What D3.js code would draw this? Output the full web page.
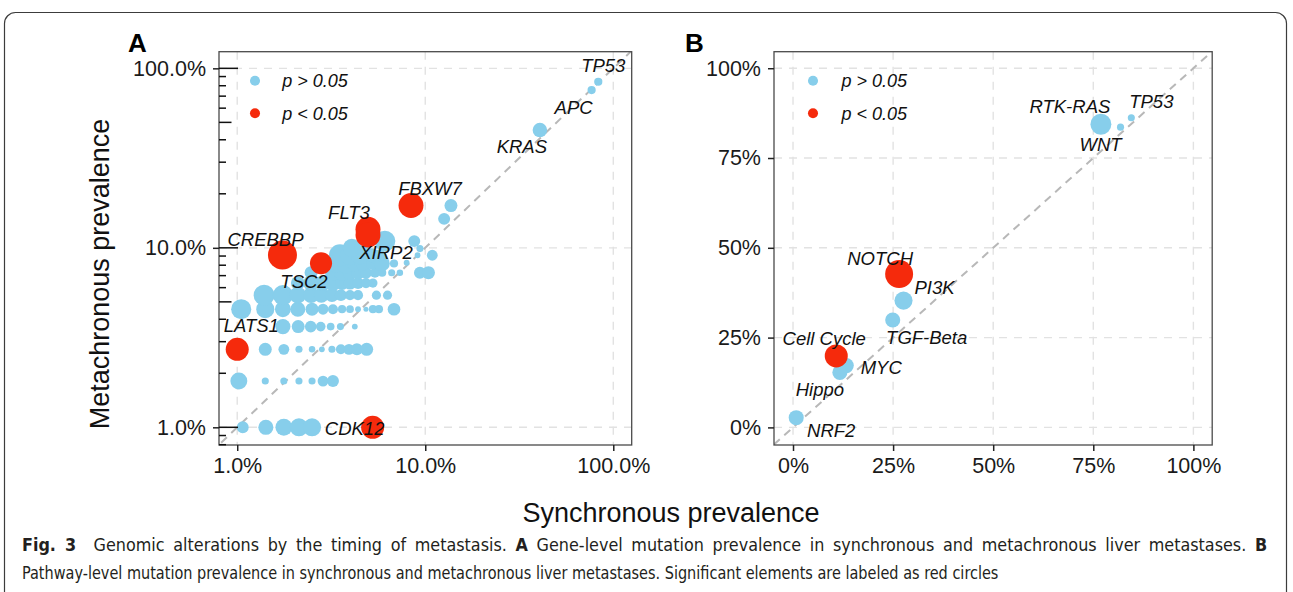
<!DOCTYPE html>
<html><head><meta charset="utf-8">
<script src="https://cdn.jsdelivr.net/npm/d3@7"></script>
<style>
body{margin:0;background:#fff}
svg{display:block}
text{font-family:"Liberation Sans",Arial,Helvetica,sans-serif}
</style>
</head><body>
<svg id="c" width="1293" height="592"></svg>
<script>
// ---------- DATA: Panel A (gene level, log scale, percent) ----------
// unlabeled genes (p > 0.05)
const aSync = [1.07,1.42,1.77,2.13,2.50, 1.02,1.41,1.77,2.13,2.50,2.86,3.23,
  1.41,1.77,2.13,2.50,2.82,3.19,3.56,3.93,4.33,4.88,
  1.75,2.11,2.46,2.78,3.14,3.54,4.22,
  1.05,1.41,1.75,2.10,2.50,2.86,3.23,3.61,3.98,4.39,4.84,5.27,5.67,6.82,
  1.39,1.75,2.10,2.47,2.80,3.19,3.56,3.98,4.39,5.5,6.3,
  2.10,2.47,2.86,3.23,3.61,3.98,4.39,4.84,5.27,
  2.47,3.23,3.61,3.98,4.39,4.84,5.40,5.9,6.63,7.33,9.37,10.4,
  3.35,3.78,4.23,4.66,5.21,5.88,6.82,7.96,
  3.52,3.98,4.49,5.21,5.73,9.1,10.9,
  4.07,4.61,9.37, 6.1,8.74, 12.6,13.7];
const aMeta = [1.0,1.0,1.0,1.0,1.0, 1.81,1.81,1.81,1.81,1.81,1.81,1.81,
  2.72,2.72,2.72,2.72,2.72,2.72,2.72,2.72,2.72,2.72,
  3.64,3.64,3.64,3.64,3.64,3.64,3.64,
  4.55,4.55,4.55,4.55,4.55,4.55,4.55,4.55,4.55,4.55,4.55,4.55,4.55,4.55,
  5.45,5.45,5.45,5.45,5.45,5.45,5.45,5.45,5.45,5.45,5.45,
  6.36,6.36,6.36,6.36,6.36,6.36,6.36,6.36,6.36,
  7.27,7.27,7.27,7.27,7.27,7.27,7.27,7.27,7.27,7.27,7.27,7.27,
  8.18,8.18,8.18,8.18,8.18,8.18,8.18,8.26,
  9.09,9.09,9.09,9.09,9.09,9.09,9.09,
  10.0,10.0,9.9, 10.9,10.9, 14.5,17.2];
const aWeight = [17,27,34,39,39, 34,6,6,6,6,14,17,
  20,14,6,5,4,6,12,14,17,20,
  27,20,16,11,7,6,4,
  48,39,30,27,20,14,12,8,7,4,3,8,8,19,
  52,48,34,30,27,23,17,12,12,10,10,
  23,30,30,30,23,20,17,12,10,
  20,30,30,23,23,17,12,8,6,5,17,20,
  39,48,30,23,17,30,8,4,
  58,48,39,23,17,4,14,
  39,30,6, 52,17, 17,20];
// labeled genes
const aGene      = ["KRAS","APC","TP53","FBXW7","FLT3","XIRP2","CREBBP","TSC2","LATS1","CDK12"];
const aGeneSync  = [40.7, 76.7, 83.2, 8.4, 4.96, 4.96, 1.74, 2.79, 1.0, 5.25];
const aGeneMeta  = [45.3, 75.7, 84.2, 17.2, 12.7, 11.8, 9.12, 8.2, 2.72, 1.0];
const aGeneWeight= [25, 8, 8, 74, 74, 74, 100, 58, 63, 63];
const aGeneSig   = [0, 0, 0, 1, 1, 1, 1, 1, 1, 1];
const aTicks = [1,10,100];
const aTickLabels = ["1.0%","10.0%","100.0%"];

// ---------- DATA: Panel B (pathway level, linear, percent) ----------
const bPath = ["RTK-RAS","WNT","TP53","NOTCH","PI3K","TGF-Beta","Cell Cycle","MYC","Hippo","NRF2"];
const bSync = [76.9,81.8,84.5,26.5,27.6,24.9,10.8,13.3,11.7,0.8];
const bMeta = [84.4,83.6,86.2,42.7,35.3,29.9,19.9,17.2,15.3,2.7];
const bWeight = [52,6,6,93,39,27,63,27,27,27];
const bSig = [0,0,0,1,0,0,1,0,0,0];
const bTicks = [0,25,50,75,100];
const bTickLabels = ["0%","25%","50%","75%","100%"];

const legendLabels = ["p > 0.05","p < 0.05"];

// ---------- LAYOUT ----------
const BLUE = "#87ceeb", RED = "#f52a0c";
const labelOffA = {KRAS:[-18,23],APC:[-18,24],TP53:[5,-10],FBXW7:[19,-11],FLT3:[-19,-10],
  XIRP2:[18,24],CREBBP:[-17,-9],TSC2:[-17,25],LATS1:[14,-17],CDK12:[-18,8]};
const labelOffB = {"RTK-RAS":[-31,-11],"WNT":[-20,24],"TP53":[20,-10],"NOTCH":[-19,-9],"PI3K":[31,-7],
  "TGF-Beta":[34,24],"Cell Cycle":[-12,-11],"MYC":[35,8],"Hippo":[-20,24],"NRF2":[35,19]};

const svg = d3.select("#c");
const rScale = d3.scaleSqrt().domain([0,100]).range([0,14.5]);

// outer frame
svg.append("rect").attr("x",4.5).attr("y",12.5).attr("width",1282).attr("height",640)
  .attr("rx",11).attr("fill","none").attr("stroke","#3c3c3c").attr("stroke-width",1.2);

function panel(id, P, xs, ys, ticks, tickLabels, gx, gy, sig, names, weights, offs, logticks){
  const g = svg.append("g");
  g.append("clipPath").attr("id","clip"+id).append("rect")
    .attr("x",P.l).attr("y",P.t).attr("width",P.r-P.l).attr("height",P.b-P.t);
  const grid = g.append("g").attr("clip-path",`url(#clip${id})`);
  ticks.forEach(t=>{
    grid.append("line").attr("x1",xs(t)).attr("x2",xs(t)).attr("y1",P.t).attr("y2",P.b)
      .attr("stroke","#e2e2e2").attr("stroke-width",1.4).attr("stroke-dasharray","8,7");
    grid.append("line").attr("x1",P.l).attr("x2",P.r).attr("y1",ys(t)).attr("y2",ys(t))
      .attr("stroke","#e2e2e2").attr("stroke-width",1.4).attr("stroke-dasharray","8,7");
  });
  const lo = id==="A" ? 0.5 : -10, hi = id==="A" ? 200 : 110;
  grid.append("line").attr("x1",xs(lo)).attr("y1",ys(lo)).attr("x2",xs(hi)).attr("y2",ys(hi))
    .attr("stroke","#b8b8b8").attr("stroke-width",2).attr("stroke-dasharray","8,6");
  // points
  const idx = d3.range(gx.length);
  const pts = g.append("g").attr("clip-path",`url(#clip${id})`);
  [0,1].forEach(s=>{
    pts.selectAll(null).data(idx.filter(i=>sig[i]===s)).enter().append("circle")
      .attr("cx",i=>xs(gx[i])).attr("cy",i=>ys(gy[i])).attr("r",i=>rScale(weights[i]))
      .attr("fill", s? RED : BLUE);
  });
  // border
  g.append("rect").attr("x",P.l).attr("y",P.t).attr("width",P.r-P.l).attr("height",P.b-P.t)
    .attr("fill","none").attr("stroke","#4a4a4a").attr("stroke-width",1.3);
  // axes
  const xa = g.append("g").attr("transform",`translate(0,${P.b})`)
    .call(d3.axisBottom(xs).tickValues(ticks).tickFormat((d,i)=>tickLabels[i]).tickSize(6).tickPadding(7));
  const ya = g.append("g").attr("transform",`translate(${P.l},0)`)
    .call(d3.axisLeft(ys).tickValues(ticks).tickFormat((d,i)=>tickLabels[i]).tickSize(6).tickPadding(7));
  [xa,ya].forEach(a=>{
    a.select(".domain").remove();
    a.selectAll("line").attr("stroke","#222").attr("stroke-width",1.5);
    a.selectAll("text").attr("font-size",21.5).attr("fill","#1a1a1a")
      .style("font-family",'"Liberation Sans",Arial,sans-serif');
  });
  if(logticks){
    const yd = ys.domain();
    [-1,0,1,2].forEach(d=>{
      for(let k=1;k<=9;k++){
        const v = k*Math.pow(10,d);
        if(v<yd[0]||v>yd[1]) continue;
        const len = k===1?19:(k===5?12.5:7);
        g.append("line").attr("x1",P.l).attr("x2",P.l+len).attr("y1",ys(v)).attr("y2",ys(v))
          .attr("stroke","#111").attr("stroke-width",1.5);
      }
    });
  }
  // labels
  idx.filter(i=>names[i] && offs[names[i]]).forEach(i=>{
    const o = offs[names[i]];
    g.append("text").attr("x",xs(gx[i])+o[0]).attr("y",ys(gy[i])+o[1])
      .attr("text-anchor","middle").attr("font-size",18.5).attr("font-style","italic")
      .attr("fill","#111").text(names[i]);
  });
  // legend
  [0,1].forEach(s=>{
    const ly = 80.7 + s*32.6;
    g.append("circle").attr("cx",P.l+ (id==="A"?36:39)).attr("cy",ly).attr("r",rScale(12))
      .attr("fill", s?RED:BLUE);
    g.append("text").attr("x",P.l+(id==="A"?63.3:67.5)).attr("y",ly+6.3).attr("font-size",18)
      .attr("font-style","italic").attr("fill","#111").text(legendLabels[s]);
  });
}

// Panel A: unlabeled first, labeled after
const allSync = aSync.concat(aGeneSync), allMeta = aMeta.concat(aGeneMeta);
const allW = aWeight.concat(aGeneWeight);
const allSig = aSync.map(()=>0).concat(aGeneSig);
const allNames = aSync.map(()=>"").concat(aGene);
const PA = {l:219, t:51.7, r:631.7, b:445};
const xA = d3.scaleLog().domain([0.8,125.3]).range([PA.l,PA.r]);
const yA = d3.scaleLog().domain([0.797,123.8]).range([PA.b,PA.t]);
panel("A", PA, xA, yA, aTicks, aTickLabels, allSync, allMeta, allSig, allNames, allW, labelOffA, true);

// Panel B
const PB = {l:774, t:51.7, r:1212.2, b:445};
const xB = d3.scaleLinear().domain([-4.75,104.7]).range([PB.l,PB.r]);
const yB = d3.scaleLinear().domain([-4.9,104.6]).range([PB.b,PB.t]);
panel("B", PB, xB, yB, bTicks, bTickLabels, bSync, bMeta, bSig, bPath, bWeight, labelOffB, false);

// panel tags
svg.append("text").attr("x",128).attr("y",51.7).attr("font-size",26).attr("font-weight","bold").text("A");
svg.append("text").attr("x",685).attr("y",51.7).attr("font-size",26).attr("font-weight","bold").text("B");

// axis titles
svg.append("text").attr("transform","translate(109,274) rotate(-90)").attr("text-anchor","middle")
  .attr("font-size",27).attr("fill","#111").text("Metachronous prevalence");
svg.append("text").attr("x",671).attr("y",522).attr("text-anchor","middle")
  .attr("font-size",27).attr("fill","#111").text("Synchronous prevalence");

// caption (justified first line, natural last line)
const capFont = '"Liberation Sans Narrow","DejaVu Sans Condensed","Liberation Sans",sans-serif';
function captionText(parts, x, y){
  const t = svg.append("text").attr("x",x).attr("y",y)
    .style("font-family",capFont).style("font-size","18px").style("white-space","pre").attr("fill","#231f20");
  parts.forEach(p=>t.append("tspan").style("font-weight",p.b?"bold":"normal").text(p.t));
  return t;
}
const cap1Parts = [{t:"Fig. 3",b:1},{t:"  Genomic alterations by the timing of metastasis. "},{t:"A",b:1},
  {t:" Gene-level mutation prevalence in synchronous and metachronous liver metastases. "},{t:"B",b:1}];
const cap2Parts = [{t:"Pathway-level mutation prevalence in synchronous and metachronous liver metastases. Significant elements are labeled as red circles"}];
const c2 = captionText(cap2Parts, 22, 579);
const w2 = c2.node().getComputedTextLength();
const sc = 977 / w2;
c2.attr("transform",`translate(22,0) scale(${sc},1) translate(-22,0)`);
const c1 = captionText(cap1Parts, 22, 551);
const w1 = c1.node().getComputedTextLength();
const nSp = cap1Parts.map(p=>p.t).join("").split(" ").length - 1;
const extra = Math.max(0, (1246/sc - w1) / nSp) * 0.35;
c1.style("word-spacing", extra + "px");
const w1b = c1.node().getComputedTextLength();
const sc1 = w1b > 0 ? 1246 / w1b : sc;
c1.attr("transform",`translate(22,0) scale(${sc1},1) translate(-22,0)`);
</script>
</body></html>
